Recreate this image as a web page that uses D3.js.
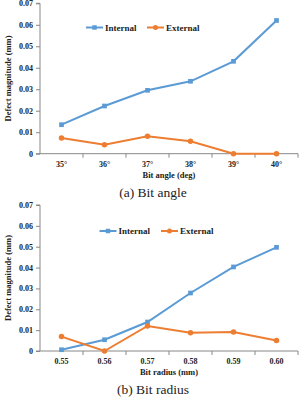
<!DOCTYPE html>
<html lang="en">
<head>
    <meta charset="UTF-8">
    <title>Defect magnitude vs bit angle / bit radius</title>
    <script src="https://d3js.org/d3.v7.min.js"></script>
    <style>
        body { margin: 0; background: #fff; }
    </style>
</head>
<body>
<div id="chart"></div>
<script>
    // chart (a)
    const angleLabels = ['35°', '36°', '37°', '38°', '39°', '40°'];
    const angleInternal = [0.0135, 0.0222, 0.0295, 0.0337, 0.0430, 0.0620];
    const angleExternal = [0.0073, 0.0042, 0.0081, 0.0058, 0.0000, 0.0000];

    // chart (b)
    const radiusLabels = ['0.55', '0.56', '0.57', '0.58', '0.59', '0.60'];
    const radiusInternal = [0.0006, 0.0054, 0.0139, 0.0278, 0.0403, 0.0497];
    const radiusExternal = [0.0069, 0.0000, 0.0120, 0.0088, 0.0091, 0.0050];

    const yTicks = [0, 0.01, 0.02, 0.03, 0.04, 0.05, 0.06, 0.07];
    const seriesNames = ['Internal', 'External'];
    const colors = ['#5b9bd5', '#ed7d31'];
    const serif = 'Liberation Serif';

    const svg = d3.select('#chart')
        .append('svg')
        .attr('width', 300)
        .attr('height', 399)
        .attr('font-family', serif);

    function drawPanel(opts) {
        const g = svg.append('g');

        const x = d3.scaleBand()
            .domain(opts.labels)
            .range([40, 298]);

        const y = d3.scaleLinear()
            .domain([0, 0.07])
            .range([opts.bottom, opts.top]);

        // y axis
        const yAxis = g.append('g')
            .attr('transform', 'translate(40,0)')
            .call(d3.axisLeft(y).tickValues(yTicks).tickSize(4)
                .tickFormat(d => d === 0 ? '0' : d3.format('.2f')(d)));
        yAxis.attr('font-family', serif);
        yAxis.select('.domain').attr('stroke', '#888').attr('d', `M-4,${opts.bottom}H0V${opts.top}H-4`);
        yAxis.selectAll('.tick line').attr('stroke', '#888');
        yAxis.selectAll('.tick text')
            .attr('font-size', 8)
            .attr('font-weight', 'bold')
            .attr('fill', '#222')
            .attr('x', -7);

        // x axis, ticks between categories
        const xAxis = g.append('g')
            .attr('transform', `translate(0,${opts.bottom})`);
        xAxis.append('line')
            .attr('x1', 40).attr('x2', 298)
            .attr('stroke', '#888');
        xAxis.selectAll('.xtick')
            .data(opts.labels)
            .join('line')
            .attr('x1', d => x(d) + x.bandwidth())
            .attr('x2', d => x(d) + x.bandwidth())
            .attr('y1', 0).attr('y2', 4)
            .attr('stroke', '#888');
        xAxis.selectAll('.xlabel')
            .data(opts.labels)
            .join('text')
            .attr('x', d => x(d) + x.bandwidth() / 2)
            .attr('y', 13)
            .attr('text-anchor', 'middle')
            .attr('font-size', 8)
            .attr('font-weight', 'bold')
            .attr('fill', '#222')
            .text(d => d);

        // axis titles
        g.append('text')
            .attr('x', 169)
            .attr('y', opts.bottom + 24)
            .attr('text-anchor', 'middle')
            .attr('font-size', 8.5)
            .attr('font-weight', 'bold')
            .attr('fill', '#222')
            .text(opts.xTitle);

        g.append('text')
            .attr('transform', `translate(8,${(opts.top + opts.bottom) / 2}) rotate(-90)`)
            .attr('text-anchor', 'middle')
            .attr('dy', '0.35em')
            .attr('font-size', 8.5)
            .attr('font-weight', 'bold')
            .attr('fill', '#222')
            .text('Defect magnitude (mm)');

        // caption
        g.append('text')
            .attr('x', 153)
            .attr('y', opts.bottom + 43)
            .attr('text-anchor', 'middle')
            .attr('font-size', 13.5)
            .attr('fill', '#222')
            .text(opts.caption);

        // lines + markers
        const line = d3.line()
            .x((d, i) => x(opts.labels[i]) + x.bandwidth() / 2)
            .y(d => y(d));

        [opts.internal, opts.external].forEach((vals, s) => {
            g.append('path')
                .datum(vals)
                .attr('d', line)
                .attr('fill', 'none')
                .attr('stroke', colors[s])
                .attr('stroke-width', 2);

            const sym = s === 0 ? d3.symbolSquare : d3.symbolCircle;
            g.selectAll(null)
                .data(vals)
                .join('path')
                .attr('d', d3.symbol().type(sym).size(s === 0 ? 22 : 24))
                .attr('transform', (d, i) => `translate(${x(opts.labels[i]) + x.bandwidth() / 2},${y(d)})`)
                .attr('fill', colors[s]);
        });

        // legend
        const legend = g.append('g')
            .attr('transform', `translate(0,${opts.legendY})`);
        seriesNames.forEach((name, s) => {
            const lx = opts.legendX[s];
            legend.append('line')
                .attr('x1', lx).attr('x2', lx + 17)
                .attr('stroke', colors[s])
                .attr('stroke-width', 2);
            legend.append('path')
                .attr('d', d3.symbol().type(s === 0 ? d3.symbolSquare : d3.symbolCircle).size(20))
                .attr('transform', `translate(${lx + 8.5},0)`)
                .attr('fill', colors[s]);
            legend.append('text')
                .attr('x', lx + 19)
                .attr('dy', '0.35em')
                .attr('font-size', 9)
                .attr('font-weight', 'bold')
                .attr('fill', '#222')
                .text(name);
        });
    }

    drawPanel({
        labels: angleLabels,
        internal: angleInternal,
        external: angleExternal,
        top: 3.3,
        bottom: 153.7,
        xTitle: 'Bit angle (deg)',
        caption: '(a) Bit angle',
        legendY: 27.5,
        legendX: [86, 147]
    });

    drawPanel({
        labels: radiusLabels,
        internal: radiusInternal,
        external: radiusExternal,
        top: 205,
        bottom: 351,
        xTitle: 'Bit radius (mm)',
        caption: '(b) Bit radius',
        legendY: 231,
        legendX: [99.5, 161]
    });
</script>
</body>
</html>
